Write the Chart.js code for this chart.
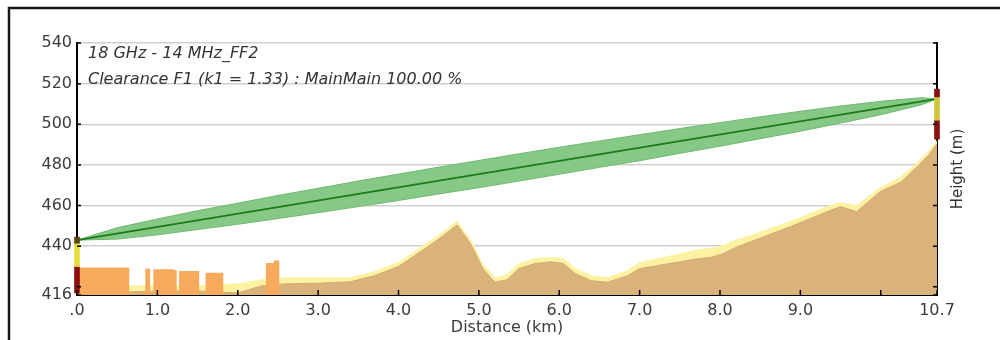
<!DOCTYPE html>
<html>
<head>
<meta charset="utf-8">
<script src="https://cdn.jsdelivr.net/npm/chart.js@4"></script>
<style>
  body { margin: 0; background: #fff; }
  canvas { display: block; }
</style>
</head>
<body>
<canvas id="profile" width="1000" height="340"></canvas>
<script>
// path profile, distance in km, height in m
const distances = [0, 0.65, 1.0, 1.5, 2.0, 2.3, 2.6, 3.0, 3.4, 3.7, 4.0, 4.3, 4.5, 4.73, 4.9, 5.05, 5.2, 5.35, 5.5, 5.7, 5.9, 6.05, 6.2, 6.4, 6.6, 6.85, 7.0, 7.3, 7.75, 7.9, 8.05, 8.2, 8.5, 8.9, 9.3, 9.5, 9.7, 10.0, 10.25, 10.45, 10.6, 10.7];
const terrain =   [417.5, 417.5, 418, 418, 417, 420.5, 421.5, 421.8, 422.5, 425.5, 430, 438, 443.5, 450.5, 441, 429, 422.3, 423.5, 429, 431.5, 432.3, 431.5, 426.5, 423, 422.3, 425.5, 429, 431, 434, 434.6, 436.5, 439.5, 444, 450, 456.5, 459.5, 457, 467, 471.5, 479, 485, 490.5];
const terrainK =  [420, 420.5, 420.5, 420.5, 421.5, 423.5, 424.5, 424.5, 424.5, 427.5, 432, 440, 445.5, 452.3, 443, 431, 424.5, 426, 431.5, 434, 434.5, 434, 429, 425.5, 424.5, 428, 432, 434.5, 438.5, 439, 440.5, 443, 447, 452.5, 459, 461.5, 460, 469, 474, 481, 487, 492];

// clutter blocks
const clutterStart = [0, 0.85, 0.95, 1.2, 1.27, 1.6, 2.35, 2.45];
const clutterEnd =   [0.65, 0.91, 1.2, 1.24, 1.52, 1.82, 2.45, 2.52];
const clutterTop =   [429.5, 429, 428.7, 428.3, 427.8, 427, 431.8, 433];

// line of sight and first Fresnel zone
const losX = [0, 10.7];
const losY = [443, 512.5];
const fresnelX =     [0, 0.5, 1, 1.5, 2, 2.5, 3, 3.5, 4, 4.5, 5, 5.5, 6, 6.5, 7, 7.5, 8, 8.5, 9, 9.5, 10, 10.5, 10.7];
const fresnelUpper = [443, 449.1, 453.4, 457.5, 461.2, 465.0, 468.5, 472.1, 475.5, 478.9, 482.2, 485.5, 488.7, 491.8, 494.9, 497.9, 500.8, 503.7, 506.4, 509.0, 511.3, 513.1, 512.5];
const fresnelLower = [443, 443.5, 445.6, 448.2, 450.8, 453.6, 456.5, 459.5, 462.5, 465.7, 468.8, 472.1, 475.4, 478.8, 482.1, 485.7, 489.2, 492.9, 496.6, 500.6, 504.7, 509.5, 512.5];

// antenna markers (site A at 0 km, site B at 10.7 km)
const antennaX =    [0, 0, 0, 10.7, 10.7, 10.7];
const antennaLow =  [417, 430, 441.5, 492.7, 502, 513.5];
const antennaHigh = [430, 441.5, 444.5, 502, 513.5, 517.3];

const xTicks = [0, 1, 2, 3, 4, 5, 6, 7, 8, 9, 10, 10.7];
const xTickLabels = ['.0', '1.0', '2.0', '3.0', '4.0', '5.0', '6.0', '7.0', '8.0', '9.0', '', '10.7'];
const yTicks = [416, 420, 440, 460, 480, 500, 520, 540];
const yTickLabels = ['416', '', '440', '460', '480', '500', '520', '540'];

const pts = (xs, ys) => xs.map((x, i) => ({x: x, y: ys[i]}));

const clutterPts = [];
clutterStart.forEach((s, i) => {
  clutterPts.push({x: s, y: 416}, {x: s, y: clutterTop[i]}, {x: clutterEnd[i], y: clutterTop[i]}, {x: clutterEnd[i], y: 416});
});

const tickFont = {family: 'DejaVu Sans', size: 16};
const textColor = '#3c3c3c';

const extras = {
  id: 'extras',
  afterDatasetsDraw(chart) {
    const {ctx, chartArea: a, scales} = chart;
    ctx.save();
    ctx.strokeStyle = '#000';
    ctx.lineWidth = 1.5;
    ctx.beginPath();
    xTicks.forEach(v => {
      const px = scales.x.getPixelForValue(v);
      ctx.moveTo(px, a.bottom);
      ctx.lineTo(px, a.bottom - 5);
    });
    yTicks.forEach(v => {
      const py = scales.y.getPixelForValue(v);
      ctx.moveTo(a.left, py);
      ctx.lineTo(a.left + 4, py);
      ctx.moveTo(a.right, py);
      ctx.lineTo(a.right - 4, py);
    });
    ctx.stroke();
    ctx.restore();
  },
  afterDraw(chart) {
    const {ctx, chartArea: a} = chart;
    ctx.save();
    // frame
    ctx.strokeStyle = '#1a1a1a';
    ctx.lineWidth = 2.5;
    ctx.strokeRect(9, 8, 1100, 400);
    // annotation
    ctx.fillStyle = '#333';
    ctx.font = 'italic 16px "DejaVu Sans"';
    ctx.textBaseline = 'middle';
    ctx.fillText('18 GHz - 14 MHz_FF2', 88, 54);
    ctx.fillText('Clearance F1 (k1 = 1.33) : MainMain 100.00 %', 88, 80);
    // right axis title
    ctx.font = '15px "DejaVu Sans"';
    ctx.textAlign = 'center';
    ctx.translate(958, (a.top + a.bottom) / 2);
    ctx.rotate(-Math.PI / 2);
    ctx.fillText('Height (m)', 0, 0);
    ctx.restore();
  }
};

new Chart(document.getElementById('profile'), {
  type: 'line',
  data: {
    datasets: [
      {
        label: 'Antennas',
        type: 'bar',
        data: antennaX.map((x, i) => ({x: x, y: [antennaLow[i], antennaHigh[i]]})),
        backgroundColor: ['#8a1010', '#e6dc3c', '#5a4512', '#8a1010', '#cfc43a', '#8a1010'],
        barThickness: 5,
        clip: false,
        order: 1
      },
      {
        label: 'LOS',
        data: pts(losX, losY),
        borderColor: '#1b7a1b',
        borderWidth: 1.6,
        pointRadius: 0,
        fill: false,
        order: 2
      },
      {
        label: 'F1 lower',
        data: pts(fresnelX, fresnelLower),
        borderColor: '#6fb86f',
        borderWidth: 1,
        pointRadius: 0,
        fill: false,
        order: 3
      },
      {
        label: 'F1 upper',
        data: pts(fresnelX, fresnelUpper),
        borderColor: '#6fb86f',
        borderWidth: 1,
        pointRadius: 0,
        backgroundColor: '#86c886',
        fill: '-1',
        order: 3
      },
      {
        label: 'Clutter',
        data: clutterPts,
        borderWidth: 0,
        pointRadius: 0,
        backgroundColor: '#f8aa5c',
        fill: 'start',
        order: 4
      },
      {
        label: 'Terrain',
        data: pts(distances, terrain),
        borderColor: '#d4ab74',
        borderWidth: 1,
        pointRadius: 0,
        backgroundColor: '#d9b27c',
        fill: 'start',
        order: 5
      },
      {
        label: 'Terrain k',
        data: pts(distances, terrainK),
        borderColor: '#fbf3a8',
        borderWidth: 1,
        pointRadius: 0,
        backgroundColor: '#fcf2a2',
        fill: 'start',
        order: 6
      }
    ]
  },
  options: {
    responsive: false,
    animation: false,
    devicePixelRatio: 1,
    layout: {padding: {top: 43, left: 0, right: 0, bottom: 0}},
    plugins: {legend: {display: false}, tooltip: {enabled: false}},
    scales: {
      x: {
        type: 'linear',
        min: 0,
        max: 10.7,
        offset: false,
        afterBuildTicks: s => { s.ticks = xTicks.map(v => ({value: v})); },
        afterFit: s => { s.height = 45; },
        ticks: {
          callback: (v, i) => xTickLabels[i],
          autoSkip: false,
          maxRotation: 0,
          padding: 6,
          font: tickFont,
          color: textColor
        },
        grid: {drawOnChartArea: false, drawTicks: false, offset: false},
        border: {color: '#000', width: 2},
        title: {
          display: true,
          text: 'Distance (km)',
          font: {family: 'DejaVu Sans', size: 16},
          color: textColor,
          padding: {top: 0, bottom: 3}
        }
      },
      y: {
        type: 'linear',
        position: 'left',
        min: 416,
        max: 540,
        afterBuildTicks: s => { s.ticks = yTicks.map(v => ({value: v})); },
        afterFit: s => { s.width = 77; },
        ticks: {
          callback: (v, i) => yTickLabels[i],
          autoSkip: false,
          padding: 5,
          font: tickFont,
          color: textColor
        },
        grid: {color: '#cfcfcf', lineWidth: 1.5, drawTicks: false},
        border: {color: '#000', width: 2}
      },
      y2: {
        type: 'linear',
        position: 'right',
        min: 416,
        max: 540,
        afterFit: s => { s.width = 63; },
        ticks: {display: false},
        grid: {drawOnChartArea: false, drawTicks: false},
        border: {color: '#000', width: 2}
      }
    }
  },
  plugins: [extras]
});
</script>
</body>
</html>
